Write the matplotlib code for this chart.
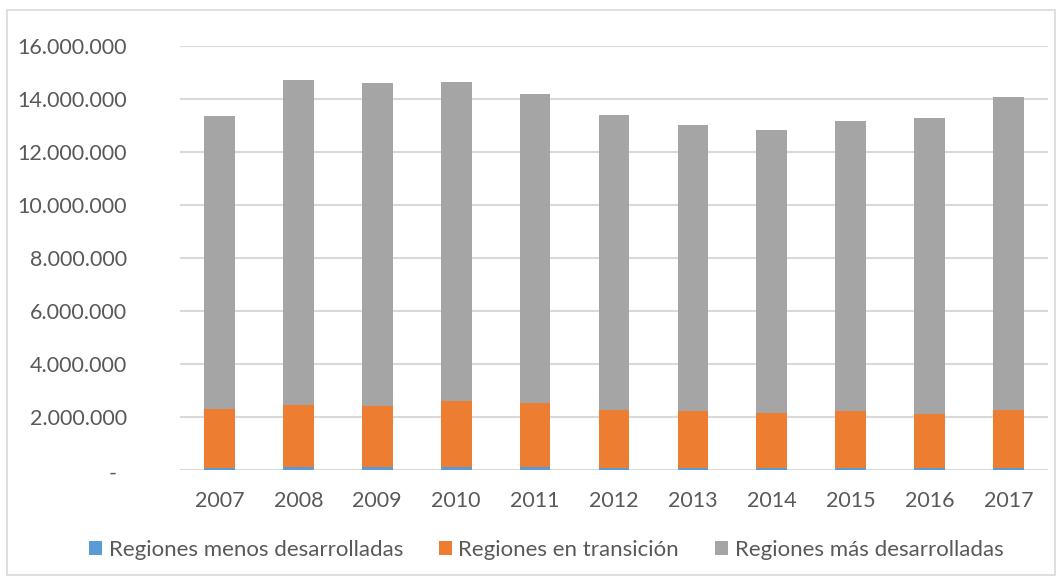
import matplotlib
matplotlib.use("Agg")
import matplotlib.pyplot as plt
import matplotlib.transforms as mtransforms
from matplotlib.patches import Rectangle
from matplotlib.ticker import FuncFormatter

years = ["2007", "2008", "2009", "2010", "2011", "2012", "2013", "2014", "2015", "2016", "2017"]
menos = [90000, 125000, 125000, 125000, 125000, 90000, 80000, 80000, 80000, 80000, 80000]
transicion = [2220000, 2335000, 2285000, 2485000, 2385000, 2180000, 2130000, 2080000, 2130000, 2040000, 2190000]
mas = [11060000, 12270000, 12210000, 12050000, 11690000, 11140000, 10820000, 10680000, 10970000, 11180000, 11820000]
series_names = ["Regiones menos desarrolladas", "Regiones en transición", "Regiones más desarrolladas"]
colors = ["#5b9bd5", "#ed7d31", "#a5a5a5"]
yticks = [0, 2000000, 4000000, 6000000, 8000000, 10000000, 12000000, 14000000, 16000000]

plt.rcParams['font.family'] = ['Lato', 'DejaVu Sans']
txt = "#595959"

fig = plt.figure(figsize=(10.62, 5.8), dpi=100)
fig.patches.append(Rectangle((7/1062, 5/580), 1048/1062, 565/580, transform=fig.transFigure,
                             fill=False, edgecolor="#d9d9d9", linewidth=1.2))
ax = fig.add_axes([180/1062, 110/580, 868/1062, 424/580])

x = list(range(len(years)))
w = 0.39
bottom2 = menos
bottom3 = [a + b for a, b in zip(menos, transicion)]
ax.bar(x, menos, w, color=colors[0], label=series_names[0], zorder=3)
ax.bar(x, transicion, w, bottom=bottom2, color=colors[1], label=series_names[1], zorder=3)
ax.bar(x, mas, w, bottom=bottom3, color=colors[2], label=series_names[2], zorder=3)

ax.set_xlim(-0.5, len(years) - 0.5)
ax.set_ylim(0, 16000000)
ax.set_yticks(yticks)

def fmt(v, pos):
    if v == 0:
        return "-"
    return f"{int(v):,}".replace(",", ".")

ax.yaxis.set_major_formatter(FuncFormatter(fmt))
ax.set_xticks(x)
ax.set_xticklabels(years)
ax.grid(axis='y', color="#d9d9d9", linewidth=1.5, zorder=0)
for s in ax.spines.values():
    s.set_visible(False)
ax.tick_params(axis='both', length=0, labelsize=15.5, labelcolor=txt)
ax.tick_params(axis='y', pad=38)
ax.tick_params(axis='x', pad=15)

fig.canvas.draw()
lbl0 = ax.get_yticklabels()[0]
lbl0.set_transform(lbl0.get_transform() + mtransforms.ScaledTranslation(-0.11, -0.02, fig.dpi_scale_trans))

fig.legend(loc='center', bbox_to_anchor=(546/1062, 30/580), ncol=3, frameon=False,
           fontsize=16, labelcolor=txt, handlelength=0.6, handleheight=0.6,
           handletextpad=0.3, columnspacing=1.6)

fig.savefig("out.png", dpi=100)
